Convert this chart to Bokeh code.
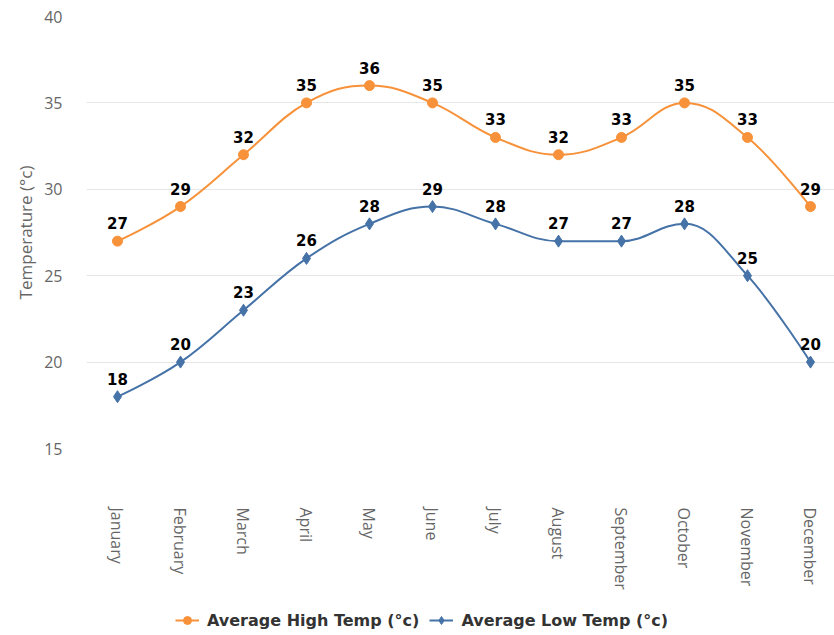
import numpy as np
from bokeh.plotting import figure
from bokeh.layouts import column
from bokeh.models import (ColumnDataSource, FixedTicker, LabelSet, Legend, LegendItem, Range1d)
from bokeh.core.properties import value
from bokeh.embed import file_html
from bokeh.resources import INLINE

months = ["January", "February", "March", "April", "May", "June", "July",
          "August", "September", "October", "November", "December"]
high = [27, 29, 32, 35, 36, 35, 33, 32, 33, 35, 33, 29]
low = [18, 20, 23, 26, 28, 29, 28, 27, 27, 28, 25, 20]
y_ticks = [15, 20, 25, 30, 35, 40]
series_names = ["Average High Temp (°c)", "Average Low Temp (°c)"]

HIGH_COLOR = "#f7923a"
LOW_COLOR = "#4572a7"
AXIS_FONT = "Open Sans"
LABEL_FONT = "DejaVu Sans"


def spline_segments(xs, ys, smoothing=1.5):
    n = len(xs)
    left = [None] * n
    right = [None] * n
    d = smoothing + 1
    for i in range(1, n - 1):
        lx, ly = xs[i - 1], ys[i - 1]
        nx, ny = xs[i + 1], ys[i + 1]
        px, py = xs[i], ys[i]
        lcx = (smoothing * px + lx) / d
        lcy = (smoothing * py + ly) / d
        rcx = (smoothing * px + nx) / d
        rcy = (smoothing * py + ny) / d
        corr = 0.0
        if rcx != lcx:
            corr = ((rcy - lcy) * (rcx - px)) / (rcx - lcx) + py - rcy
        lcy += corr
        rcy += corr
        if lcy > ly and lcy > py:
            lcy = max(ly, py); rcy = 2 * py - lcy
        elif lcy < ly and lcy < py:
            lcy = min(ly, py); rcy = 2 * py - lcy
        if rcy > ny and rcy > py:
            rcy = max(ny, py); lcy = 2 * py - rcy
        elif rcy < ny and rcy < py:
            rcy = min(ny, py); lcy = 2 * py - rcy
        left[i] = (lcx, lcy)
        right[i] = (rcx, rcy)
    seg = dict(x0=[], y0=[], x1=[], y1=[], cx0=[], cy0=[], cx1=[], cy1=[])
    for i in range(1, n):
        c0 = right[i - 1] if right[i - 1] is not None else (xs[i - 1], ys[i - 1])
        c1 = left[i] if left[i] is not None else (xs[i], ys[i])
        seg["x0"].append(xs[i - 1]); seg["y0"].append(ys[i - 1])
        seg["x1"].append(xs[i]); seg["y1"].append(ys[i])
        seg["cx0"].append(c0[0]); seg["cy0"].append(c0[1])
        seg["cx1"].append(c1[0]); seg["cy1"].append(c1[1])
    return seg


x = list(range(len(months)))

p = figure(width=834, height=605, output_backend="svg", toolbar_location=None,
           x_range=Range1d(-0.492, 11.381), y_range=Range1d(15, 40),
           min_border_left=86, min_border_right=0, min_border_top=16, min_border_bottom=157)
p.outline_line_color = None
p.background_fill_color = "white"
p.border_fill_color = "white"

src = ColumnDataSource(dict(x=x, high=high, low=low,
                            high_t=[str(v) for v in high], low_t=[str(v) for v in low]))

hs = ColumnDataSource(spline_segments(x, high))
ls = ColumnDataSource(spline_segments(x, low))

p.bezier(x0="x0", y0="y0", x1="x1", y1="y1", cx0="cx0", cy0="cy0", cx1="cx1", cy1="cy1",
         source=hs, line_color=HIGH_COLOR, line_width=2)
p.bezier(x0="x0", y0="y0", x1="x1", y1="y1", cx0="cx0", cy0="cy0", cx1="cx1", cy1="cy1",
         source=ls, line_color=LOW_COLOR, line_width=2)
p.scatter("x", "high", source=src, marker="circle", size=10,
          fill_color=HIGH_COLOR, line_color=HIGH_COLOR)
p.scatter("x", "low", source=src, marker="diamond", size=12,
          fill_color=LOW_COLOR, line_color=LOW_COLOR)

for col, tcol in (("high", "high_t"), ("low", "low_t")):
    lab = LabelSet(x="x", y=col, text=tcol, source=src, text_align="center",
                   text_baseline="alphabetic", y_offset=12, text_font=value(LABEL_FONT),
                   text_font_size="15px", text_font_style="bold", text_color="#000000")
    p.add_layout(lab)

# axes
p.xaxis.ticker = FixedTicker(ticks=x)
p.xaxis.major_label_overrides = {i: m for i, m in enumerate(months)}
p.xaxis.major_label_orientation = "vertical"
p.xaxis.axis_line_color = None
p.xaxis.major_tick_line_color = None
p.xaxis.minor_tick_line_color = None
p.xaxis.major_label_standoff = 53
p.xaxis.major_label_text_font = AXIS_FONT
p.xaxis.major_label_text_font_size = "16px"
p.xaxis.major_label_text_color = "#666666"

p.yaxis.ticker = FixedTicker(ticks=y_ticks)
p.yaxis.axis_line_color = None
p.yaxis.major_tick_line_color = None
p.yaxis.minor_tick_line_color = None
p.yaxis.major_label_standoff = 18
p.yaxis.major_label_text_font = AXIS_FONT
p.yaxis.major_label_text_font_size = "16px"
p.yaxis.major_label_text_color = "#666666"
p.yaxis.axis_label = "Temperature (°c)"
p.yaxis.axis_label_text_font = AXIS_FONT
p.yaxis.axis_label_text_font_size = "17px"
p.yaxis.axis_label_text_font_style = "normal"
p.yaxis.axis_label_text_color = "#666666"
p.yaxis.axis_label_standoff = 4

p.xgrid.grid_line_color = None
p.ygrid.ticker = FixedTicker(ticks=y_ticks)
p.ygrid.grid_line_color = "#e6e6e6"
p.ygrid.grid_line_width = 1

# legend strip below the chart (its frame is aligned with the chart's frame)
p2 = figure(width=834, height=30, output_backend="svg", toolbar_location=None,
            x_range=Range1d(0, 1), y_range=Range1d(0, 1), min_border=0)
p2.axis.visible = False
p2.grid.visible = False
p2.outline_line_color = None
nan = [np.nan]
h_line = p2.line(nan, nan, line_color=HIGH_COLOR, line_width=2)
h_mark = p2.scatter(nan, nan, marker="circle", size=10, fill_color=HIGH_COLOR, line_color=HIGH_COLOR)
l_line = p2.line(nan, nan, line_color=LOW_COLOR, line_width=2)
l_mark = p2.scatter(nan, nan, marker="diamond", size=12, fill_color=LOW_COLOR, line_color=LOW_COLOR)
legend = Legend(items=[LegendItem(label=series_names[0], renderers=[h_line, h_mark]),
                       LegendItem(label=series_names[1], renderers=[l_line, l_mark])],
                location=(89, 5), orientation="horizontal",
                label_text_font=LABEL_FONT, label_text_font_size="16px",
                label_text_font_style="bold", label_text_color="#333333",
                glyph_width=24, glyph_height=20, label_standoff=8, spacing=10,
                padding=0, margin=0, border_line_color=None, background_fill_alpha=0)
p2.add_layout(legend, "center")

layout = column(p, p2, spacing=0)

with open("out.html", "w") as f:
    f.write(file_html(layout, INLINE))
